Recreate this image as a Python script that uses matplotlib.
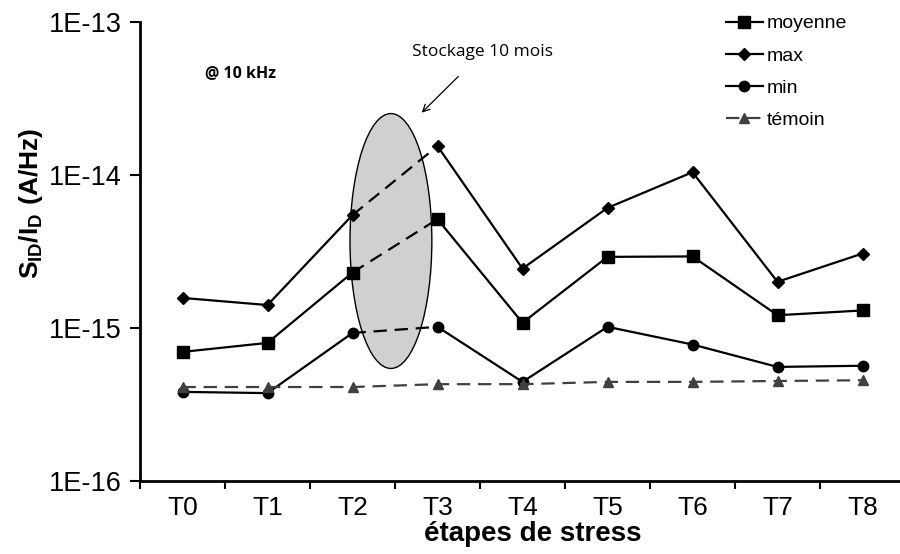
import matplotlib
matplotlib.use("Agg")
import matplotlib.pyplot as plt
from matplotlib.patches import Ellipse
import numpy as np

# ── data ──────────────────────────────────────────────────────────────────────
etapes = ["T0", "T1", "T2", "T3", "T4", "T5", "T6", "T7", "T8"]
moyenne = [6.97e-16, 7.98e-16, 2.30e-15, 5.13e-15, 1.08e-15, 2.91e-15, 2.93e-15, 1.21e-15, 1.30e-15]
maxi = [1.57e-15, 1.41e-15, 5.46e-15, 1.54e-14, 2.44e-15, 6.08e-15, 1.04e-14, 2.00e-15, 3.06e-15]
mini = [3.82e-16, 3.75e-16, 9.27e-16, 1.016e-15, 4.44e-16, 1.016e-15, 7.79e-16, 5.56e-16, 5.66e-16]
temoin = [4.11e-16, 4.11e-16, 4.11e-16, 4.29e-16, 4.29e-16, 4.44e-16, 4.44e-16, 4.50e-16, 4.55e-16]
y_ticks = [1e-16, 1e-15, 1e-14, 1e-13]
y_labels = ["1E-16", "1E-15", "1E-14", "1E-13"]

plt.rcParams["font.family"] = ["Liberation Sans", "DejaVu Sans"]
plt.rcParams["mathtext.fontset"] = "custom"
plt.rcParams["mathtext.rm"] = "Liberation Sans"
plt.rcParams["mathtext.bf"] = "Liberation Sans:bold"

fig = plt.figure(figsize=(9, 5.54), dpi=100)
W, H = 900, 554
ax = fig.add_axes([140 / W, (H - 481) / H, 765 / W, (481 - 21.7) / H])

x = np.arange(len(etapes))

# ── series: solid outside storage gap, dashed across T2-T3 ───────────────────
series = [
    ("moyenne", moyenne, "s", 8.5),
    ("max", maxi, "D", 6),
    ("min", mini, "o", 7.5),
]
handles = []
for name, vals, mk, ms in series:
    vals = np.array(vals)
    kw = dict(color="black", marker=mk, markersize=ms, lw=1.6, zorder=3)
    ax.plot(x[:3], vals[:3], **kw)
    ax.plot(x[3:], vals[3:], **kw)
    ax.plot(x[2:4], vals[2:4], color="black", lw=1.6, ls=(0, (6, 3.5)), zorder=3)
    h, = ax.plot([], [], label=name, **kw)
    handles.append(h)

h, = ax.plot(x, temoin, color="#404040", marker="^", markersize=7, lw=1.6,
             ls=(0, (6, 3.5)), zorder=3, label="témoin")
handles.append(h)

# ── storage ellipse + annotation ─────────────────────────────────────────────
ell = Ellipse((0.328, 0.5225), 0.107, 0.555, transform=ax.transAxes,
              facecolor="#d0d0d0", edgecolor="black", lw=1.0, zorder=2)
ax.add_patch(ell)
ax.annotate("Stockage 10 mois", xy=(421.7 / W, 1 - 112.7 / H), xycoords="figure fraction",
            xytext=(483 / W, 1 - 52 / H), textcoords="figure fraction",
            ha="center", va="center", fontsize=12.5, family=["Open Sans", "DejaVu Sans"],
            arrowprops=dict(arrowstyle="->", color="black", lw=0.9, shrinkA=14, shrinkB=0))
fig.text(205 / W, 1 - 73 / H, "@ 10 kHz", fontsize=11.5, fontweight="bold",
         family=["Open Sans", "DejaVu Sans"], va="center", ha="left")

# ── axes styling ─────────────────────────────────────────────────────────────
ax.set_yscale("log")
ax.set_ylim(1e-16, 1e-13)
ax.set_xlim(-0.5, 8.5)
ax.set_yticks(y_ticks)
ax.set_yticklabels(y_labels)
ax.yaxis.set_minor_locator(matplotlib.ticker.NullLocator())
ax.set_xticks(x)
ax.set_xticklabels(etapes)
ax.set_xticks(np.arange(-0.5, 9, 1), minor=True)
ax.tick_params(axis="x", which="major", length=0, labelsize=19, pad=11)
ax.tick_params(axis="x", which="minor", length=6, width=1.5)
ax.tick_params(axis="y", which="major", length=7, width=1.5, labelsize=19.5, pad=6)
for s in ["top", "right"]:
    ax.spines[s].set_visible(False)
for s in ["left", "bottom"]:
    ax.spines[s].set_linewidth(2)

ax.set_xlabel("étapes de stress", fontsize=20, fontweight="bold")
ax.xaxis.set_label_coords(0.513, -0.087)
ax.set_ylabel(r"$\mathbf{S_{ID}/I_D\ (A/Hz)}$", fontsize=19)
ax.yaxis.set_label_coords(-0.124, 0.604)

fig.legend(handles=handles, loc="upper left", bbox_to_anchor=(718 / W, 1 - 7 / H),
           frameon=False, fontsize=14, handlelength=1.9, handletextpad=0.2,
           labelspacing=0.75, borderaxespad=0)

fig.savefig("out.png", dpi=100)
